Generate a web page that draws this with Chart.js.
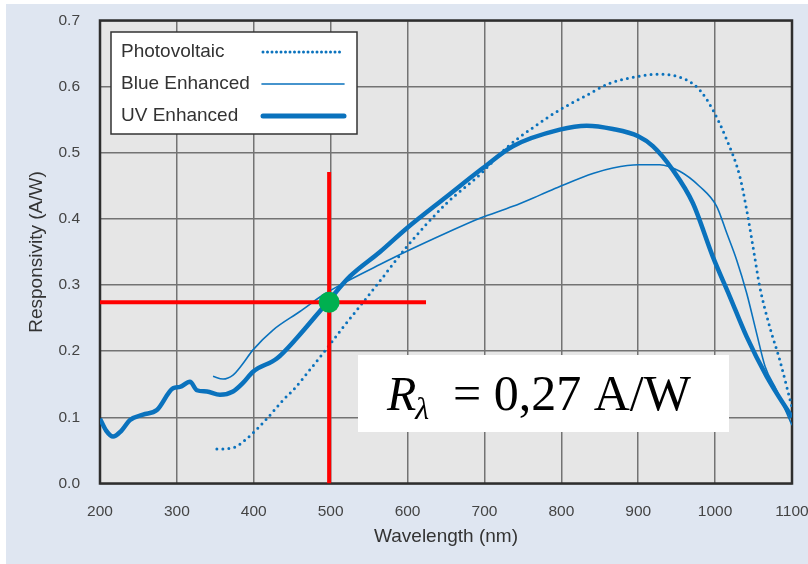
<!DOCTYPE html>
<html>
<head>
<meta charset="utf-8">
<script src="https://cdn.jsdelivr.net/npm/chart.js@4.4.1/dist/chart.umd.min.js"></script>
<style>
  html, body { margin: 0; padding: 0; background: #ffffff; }
  #wrap { width: 808px; height: 564px; }
</style>
</head>
<body>
<div id="wrap"><canvas id="chart-responsivity" width="808" height="564"></canvas></div>
<script>
// wavelengths (nm) and responsivity (A/W)
var pvWl = [352, 373, 391, 417, 438, 451, 473, 495, 516, 538, 564, 599, 651, 694, 729, 763, 798, 830, 863, 898, 928, 963, 980, 997, 1015, 1032, 1041, 1050, 1058, 1071, 1084, 1100];
var pvResp = [0.052, 0.054, 0.068, 0.098, 0.126, 0.141, 0.172, 0.204, 0.236, 0.268, 0.306, 0.358, 0.424, 0.467, 0.508, 0.538, 0.565, 0.585, 0.605, 0.615, 0.619, 0.610, 0.595, 0.565, 0.520, 0.465, 0.414, 0.353, 0.298, 0.237, 0.187, 0.115];

var blueWl = [347, 360, 373, 385, 399, 425, 460, 490, 525, 564, 599, 651, 694, 737, 772, 798, 842, 867, 900, 928, 954, 980, 1002, 1015, 1028, 1041, 1054, 1065, 1080, 1100];
var blueResp = [0.162, 0.158, 0.164, 0.180, 0.202, 0.232, 0.260, 0.285, 0.308, 0.331, 0.351, 0.379, 0.401, 0.419, 0.436, 0.449, 0.469, 0.477, 0.482, 0.482, 0.472, 0.449, 0.419, 0.379, 0.338, 0.288, 0.227, 0.177, 0.141, 0.088];

var uvWl = [200, 208, 217, 228, 239, 256, 274, 295, 304, 317, 326, 339, 356, 373, 386, 399, 430, 456, 495, 525, 564, 599, 651, 698, 737, 798, 833, 867, 900, 919, 945, 971, 997, 1019, 1041, 1067, 1100];
var uvResp = [0.098, 0.080, 0.071, 0.080, 0.096, 0.104, 0.111, 0.144, 0.146, 0.154, 0.141, 0.139, 0.134, 0.139, 0.152, 0.169, 0.189, 0.220, 0.273, 0.313, 0.350, 0.386, 0.434, 0.477, 0.510, 0.535, 0.541, 0.536, 0.525, 0.510, 0.474, 0.424, 0.343, 0.283, 0.222, 0.162, 0.100];

var seriesNames = ["Photovoltaic", "Blue Enhanced", "UV Enhanced"];

// marked reading
var markWl = 498;
var markResp = 0.274;
var markLineEnd = 624;
var markLineTop = 0.471;

var xMin = 200, xMax = 1100, xStep = 100;
var yMin = 0, yMax = 0.7, yStep = 0.1;

var blue = '#0a72bd';
var textColor = '#333333';

function toPoints(xs, ys) {
    var pts = [];
    for (var i = 0; i < xs.length; i++) {
        pts.push({x: xs[i], y: ys[i]});
    }
    return pts;
}

var backgroundPlugin = {
    id: 'background',
    beforeDraw: function(chart) {
        var ctx = chart.ctx;
        var a = chart.chartArea;
        ctx.save();
        ctx.fillStyle = '#dfe6f1';
        ctx.fillRect(6, 4, 802, 560);
        ctx.fillStyle = '#e6e6e6';
        ctx.fillRect(a.left, a.top, a.right - a.left, a.bottom - a.top);
        ctx.restore();
    },
    beforeDatasetsDraw: function(chart) {
        var ctx = chart.ctx;
        var a = chart.chartArea;
        ctx.save();
        ctx.strokeStyle = '#2e2e2e';
        ctx.lineWidth = 2.5;
        ctx.strokeRect(a.left, a.top, a.right - a.left, a.bottom - a.top);
        ctx.restore();
    }
};

var legendPlugin = {
    id: 'boxLegend',
    afterDraw: function(chart) {
        var ctx = chart.ctx;
        ctx.save();
        ctx.fillStyle = '#ffffff';
        ctx.fillRect(111, 32, 246, 102);
        ctx.strokeStyle = '#333333';
        ctx.lineWidth = 1.5;
        ctx.strokeRect(111, 32, 246, 102);

        ctx.font = '19px "Liberation Sans", Arial, sans-serif';
        ctx.fillStyle = textColor;
        ctx.textBaseline = 'middle';
        var rows = [52, 84, 116];
        for (var i = 0; i < seriesNames.length; i++) {
            ctx.fillText(seriesNames[i], 121, rows[i]);
        }

        ctx.strokeStyle = blue;
        ctx.lineCap = 'round';
        // dotted
        ctx.lineWidth = 3;
        ctx.setLineDash([0, 4.5]);
        ctx.beginPath(); ctx.moveTo(263, rows[0]); ctx.lineTo(344, rows[0]); ctx.stroke();
        ctx.setLineDash([]);
        // thin
        ctx.lineWidth = 1.6;
        ctx.beginPath(); ctx.moveTo(262, rows[1]); ctx.lineTo(344, rows[1]); ctx.stroke();
        // thick
        ctx.lineWidth = 5;
        ctx.beginPath(); ctx.moveTo(263, rows[2]); ctx.lineTo(344, rows[2]); ctx.stroke();

        // result box
        ctx.lineCap = 'butt';
        ctx.fillStyle = '#ffffff';
        ctx.fillRect(358, 355, 371, 77);
        ctx.fillStyle = '#000000';
        ctx.textBaseline = 'alphabetic';
        ctx.font = 'italic 48px "Liberation Serif", "DejaVu Serif", serif';
        ctx.fillText('R', 387, 410);
        var rw = ctx.measureText('R').width;
        ctx.font = 'italic 32px "Liberation Serif", "DejaVu Serif", serif';
        ctx.fillText('\u03bb', 387 + rw - 1, 419);
        ctx.font = '50px "Liberation Serif", "DejaVu Serif", serif';
        ctx.fillText('= 0,27 A/W', 453, 410);
        ctx.restore();
    }
};

var data = {
    datasets: [
        {
            label: 'mark',
            data: [{x: markWl, y: markResp}],
            showLine: false,
            pointRadius: 10.5,
            pointBackgroundColor: '#00b050',
            pointBorderWidth: 0,
            order: 0
        },
        {
            label: 'hline',
            data: [{x: xMin, y: markResp}, {x: markLineEnd, y: markResp}],
            borderColor: '#ff0000',
            borderWidth: 4,
            pointRadius: 0,
            order: 1
        },
        {
            label: 'vline',
            data: [{x: markWl, y: yMin}, {x: markWl, y: markLineTop}],
            borderColor: '#ff0000',
            borderWidth: 4,
            pointRadius: 0,
            order: 1
        },
        {
            label: seriesNames[2],
            data: toPoints(uvWl, uvResp),
            borderColor: blue,
            borderWidth: 4.5,
            pointRadius: 0,
            cubicInterpolationMode: 'monotone',
            order: 2
        },
        {
            label: seriesNames[1],
            data: toPoints(blueWl, blueResp),
            borderColor: blue,
            borderWidth: 1.6,
            pointRadius: 0,
            cubicInterpolationMode: 'monotone',
            order: 3
        },
        {
            label: seriesNames[0],
            data: toPoints(pvWl, pvResp),
            borderColor: blue,
            borderWidth: 3,
            borderDash: [0, 6],
            borderCapStyle: 'round',
            pointRadius: 0,
            cubicInterpolationMode: 'monotone',
            order: 4
        }
    ]
};

var tickFont = { family: '"Liberation Sans", Arial, sans-serif', size: 15.5 };
var titleFont = { family: '"Liberation Sans", Arial, sans-serif', size: 19 };

var options = {
    responsive: false,
    animation: false,
    layout: { padding: { top: 20.5, right: 16, left: 0, bottom: 0 } },
    plugins: {
        legend: { display: false },
        tooltip: { enabled: false }
    },
    scales: {
        x: {
            type: 'linear',
            min: xMin,
            max: xMax,
            border: { display: false },
            grid: { color: '#737373', lineWidth: 1.5, drawTicks: false },
            ticks: {
                stepSize: xStep,
                color: '#444444',
                font: tickFont,
                padding: 18.5,
                maxRotation: 0,
                callback: function(v) { return String(v); }
            },
            title: { display: true, text: 'Wavelength (nm)', color: textColor, font: titleFont, padding: { top: 0, bottom: 16 } },
            afterFit: function(scale) {
                scale.height = 80.5;
                scale.paddingLeft = 0;
                scale.paddingRight = 0;
            }
        },
        y: {
            min: yMin,
            max: yMax,
            border: { display: false },
            grid: { color: '#737373', lineWidth: 1.5, drawTicks: false },
            ticks: {
                stepSize: yStep,
                color: '#444444',
                font: tickFont,
                padding: 20,
                callback: function(v) { return v.toFixed(1); }
            },
            title: { display: true, text: 'Responsivity (A/W)', color: textColor, font: titleFont, padding: { top: 25.3, bottom: 0 } },
            afterFit: function(scale) {
                scale.width = 100;
                scale.paddingTop = 0;
                scale.paddingBottom = 0;
            }
        }
    }
};

var ctx = document.getElementById('chart-responsivity').getContext('2d');
var responsivityChart = new Chart(ctx, {
    type: 'line',
    data: data,
    options: options,
    plugins: [backgroundPlugin, legendPlugin]
});
</script>
</body>
</html>
